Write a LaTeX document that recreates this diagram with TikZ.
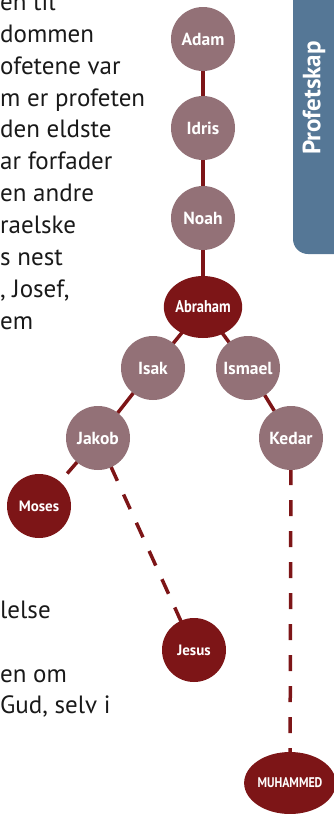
\documentclass[tikz,border=0pt]{standalone}
\usepackage{fontspec}
\setmainfont{PT Sans}
\newfontfamily\namefont[FakeStretch=0.85]{PT Sans}
\usetikzlibrary{shapes.geometric,backgrounds}
\definecolor{prophet}{HTML}{937177}
\definecolor{chosen}{HTML}{7D1517}
\definecolor{tabblue}{HTML}{557796}
\begin{document}
\begin{tikzpicture}[x=1pt, y=-1pt, line join=round,
		person/.style={circle, fill=prophet, minimum size=64pt, inner sep=0pt, text=white,
			font=\bfseries\fontsize{17.5}{17.5}\selectfont},
		chosen/.style={person, fill=chosen, font=\bfseries\fontsize{15}{15}\selectfont},
		wide/.style={chosen, ellipse, minimum width=74pt, minimum height=62pt,
			font=\namefont\bfseries\fontsize{17}{17}\selectfont},
		link/.style={draw=chosen, line width=3.5pt},
		gap/.style={link, dash pattern=on 16pt off 15pt}]
		\useasboundingbox (0,0) rectangle (334,814);
		% side tab
		\fill[tabblue, rounded corners=15pt] (293,-20) rectangle (354,254);
		\node[rotate=90, text=white, font=\bfseries\fontsize{25}{25}\selectfont] (tab) at (314,98) {Profetskap};
		% body text cut off at the left edge
		\foreach \y/\t in {10/{en til},42/{dommen},74/{ofetene var},106/{m er profeten},137/{den eldste},
			169/{ar forfader},201/{en andre},233/{raelske},265/{s nest},297/{, Josef,},329/{em},
			618/{lelse},682/{en om},713/{Gud, selv i}}
			\node[anchor=base west, inner sep=0pt, text=black!90, font=\fontsize{25}{25}\selectfont] at (0,\y) {\t};
		% prophets
		\node[person] (adam) at (203,39) {Adam};
		\node[person] (idris) at (203,128) {Idris};
		\node[person] (noah) at (203,218) {Noah};
		\node[wide] (abraham) at (203,307) {Abraham};
		\node[person] (isak) at (153,368) {Isak};
		\node[person] (ismael) at (248,368) {Ismael};
		\node[person] (jakob) at (98,438) {Jakob};
		\node[person] (kedar) at (291,438) {Kedar};
		\node[chosen] (moses) at (39,506) {Moses};
		\node[chosen] (jesus) at (194,650) {Jesus};
		\node[wide, minimum width=88pt, font=\namefont\bfseries\fontsize{14}{14}\selectfont] (muhammed) at (290,783) {MUHAMMED};
		\begin{scope}[on background layer]
			\foreach \a/\b in {adam/idris,idris/noah,noah/abraham,abraham/isak,abraham/ismael,isak/jakob,ismael/kedar}
				\draw[link] (\a.center)--(\b.center);
			\foreach \a/\b in {jakob/moses,jakob/jesus,kedar/muhammed}
				\draw[gap] (\a.center)--(\b.center);
		\end{scope}
\end{tikzpicture}
\end{document}
